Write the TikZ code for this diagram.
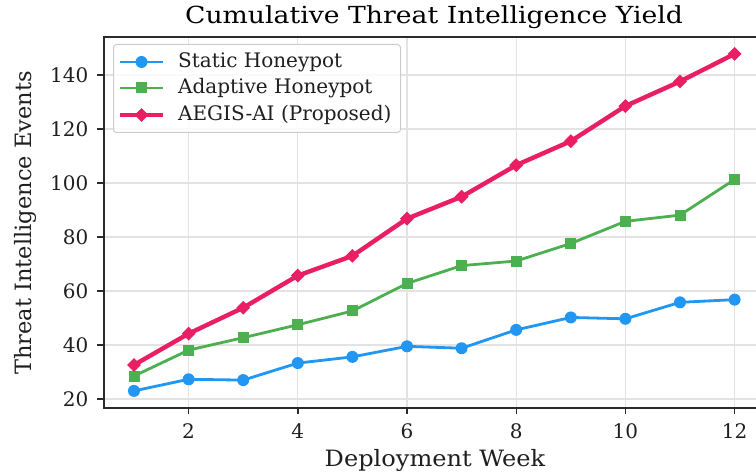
\documentclass[tikz,border=0pt]{standalone}
\usepackage{fontspec}
\setmainfont{DejaVu Serif}
\usetikzlibrary{shapes.geometric}
\definecolor{cstatic}{HTML}{2196F3}
\definecolor{cadapt}{HTML}{4CAF50}
\definecolor{caegis}{HTML}{E91E63}
\definecolor{gridc}{HTML}{E3E3E3}
\definecolor{spinec}{HTML}{2B2B2B}
\tikzset{
  gridline/.style={draw=gridc, line width=1.3pt},
  spine/.style={draw=spinec, line width=1.8pt},
  tickmark/.style={draw=spinec, line width=1.4pt},
  ticklab/.style={font=\fontsize{20}{20}\selectfont, text=black!88, inner sep=0pt},
  axlab/.style={font=\fontsize{22.5}{22.5}\selectfont, text=black!88, inner sep=0pt},
  serstatic/.style={draw=cstatic, line width=2.8pt, line join=round},
  seradapt/.style={draw=cadapt, line width=2.8pt, line join=round},
  seraegis/.style={draw=caegis, line width=4.4pt, line join=round},
  mstatic/.style={circle, fill=cstatic, minimum size=12pt, inner sep=0pt},
  madapt/.style={rectangle, fill=cadapt, minimum size=11pt, inner sep=0pt},
  maegis/.style={diamond, fill=caegis, minimum width=14pt, minimum height=14pt, inner sep=0pt},
}
\begin{document}
\begin{tikzpicture}
\useasboundingbox (0,0) rectangle (756pt,476pt);
\fill[white] (0,0) rectangle (756pt,476pt);
% data frame: week on x, events on y
\begin{scope}[shift={(79.4pt,23pt)}, x=54.6pt, y=2.7pt]
  % grid
  \foreach \gx in {2,4,...,12} \draw[gridline] (\gx,16.67) -- (\gx,154.1);
  \foreach \gy in {20,40,...,140} \draw[gridline] (0.45,\gy) -- (12.39,\gy);
  % spines
  \draw[spine] (12.39,154.1) -- (0.45,154.1) -- (0.45,16.67) -- (12.39,16.67);
  % ticks and tick labels
  \foreach \gx in {2,4,...,12} {
    \draw[tickmark] (\gx,16.67) -- ++(0,-2.3);
    \node[ticklab, anchor=north] (xt\gx) at (\gx,11.1) {\gx};
  }
  \foreach \gy in {20,40,...,140} {
    \draw[tickmark] (0.45,\gy) -- ++(-0.12,0);
    \node[ticklab, anchor=east] (yt\gy) at (0.167,\gy) {\gy};
  }
  % series points
  \foreach \w/\v in {1/23.0,2/27.3,3/27.0,4/33.3,5/35.6,6/39.5,7/38.8,8/45.6,9/50.2,10/49.7,11/55.8,12/56.8}
    \coordinate (s\w) at (\w,\v);
  \foreach \w/\v in {1/28.5,2/38.1,3/42.7,4/47.5,5/52.6,6/62.8,7/69.4,8/71.1,9/77.6,10/85.8,11/88.1,12/101.3}
    \coordinate (a\w) at (\w,\v);
  \foreach \w/\v in {1/32.6,2/44.2,3/53.8,4/65.7,5/73.0,6/86.8,7/94.9,8/106.6,9/115.5,10/128.5,11/137.6,12/147.8}
    \coordinate (g\w) at (\w,\v);
  % lines
  \draw[serstatic] (s1) -- (s2) -- (s3) -- (s4) -- (s5) -- (s6) -- (s7) -- (s8) -- (s9) -- (s10) -- (s11) -- (s12);
  \foreach \w in {1,...,12} \node[mstatic] (ms\w) at (s\w) {};
  \draw[seradapt] (a1) -- (a2) -- (a3) -- (a4) -- (a5) -- (a6) -- (a7) -- (a8) -- (a9) -- (a10) -- (a11) -- (a12);
  \foreach \w in {1,...,12} \node[madapt] (ma\w) at (a\w) {};
  \draw[seraegis] (g1) -- (g2) -- (g3) -- (g4) -- (g5) -- (g6) -- (g7) -- (g8) -- (g9) -- (g10) -- (g11) -- (g12);
  \foreach \w in {1,...,12} \node[maegis] (mg\w) at (g\w) {};
\end{scope}
% legend
\node[draw=black!20, line width=1pt, rounded corners=3pt, fill=white, fill opacity=0.85,
      minimum width=287pt, minimum height=88pt, anchor=north west, inner sep=0pt] (legend) at (113pt,432pt) {};
\foreach \r/\st/\mk/\lab [count=\i] in {414/serstatic/mstatic/Static Honeypot,
                                         388/seradapt/madapt/Adaptive Honeypot,
                                         361/seraegis/maegis/AEGIS-AI (Proposed)} {
  \coordinate (l\i a) at (120pt,\r pt);
  \coordinate (l\i b) at (163pt,\r pt);
  \draw[\st] (l\i a) -- (l\i b);
  \node[\mk] (lm\i) at (141.5pt,\r pt) {};
  \node[ticklab, anchor=west] (lt\i) at (178pt,\r pt) {\lab};
}
% titles
\node[font=\fontsize{23.5}{23.5}\selectfont, xscale=1.135, inner sep=0pt] (title) at (434pt,459pt) {Cumulative Threat Intelligence Yield};
\node[axlab, xscale=1.07] (xlabel) at (435pt,16pt) {Deployment Week};
\node[axlab, rotate=90] (ylabel) at (25pt,253pt) {Threat Intelligence Events};
\end{tikzpicture}
\end{document}
